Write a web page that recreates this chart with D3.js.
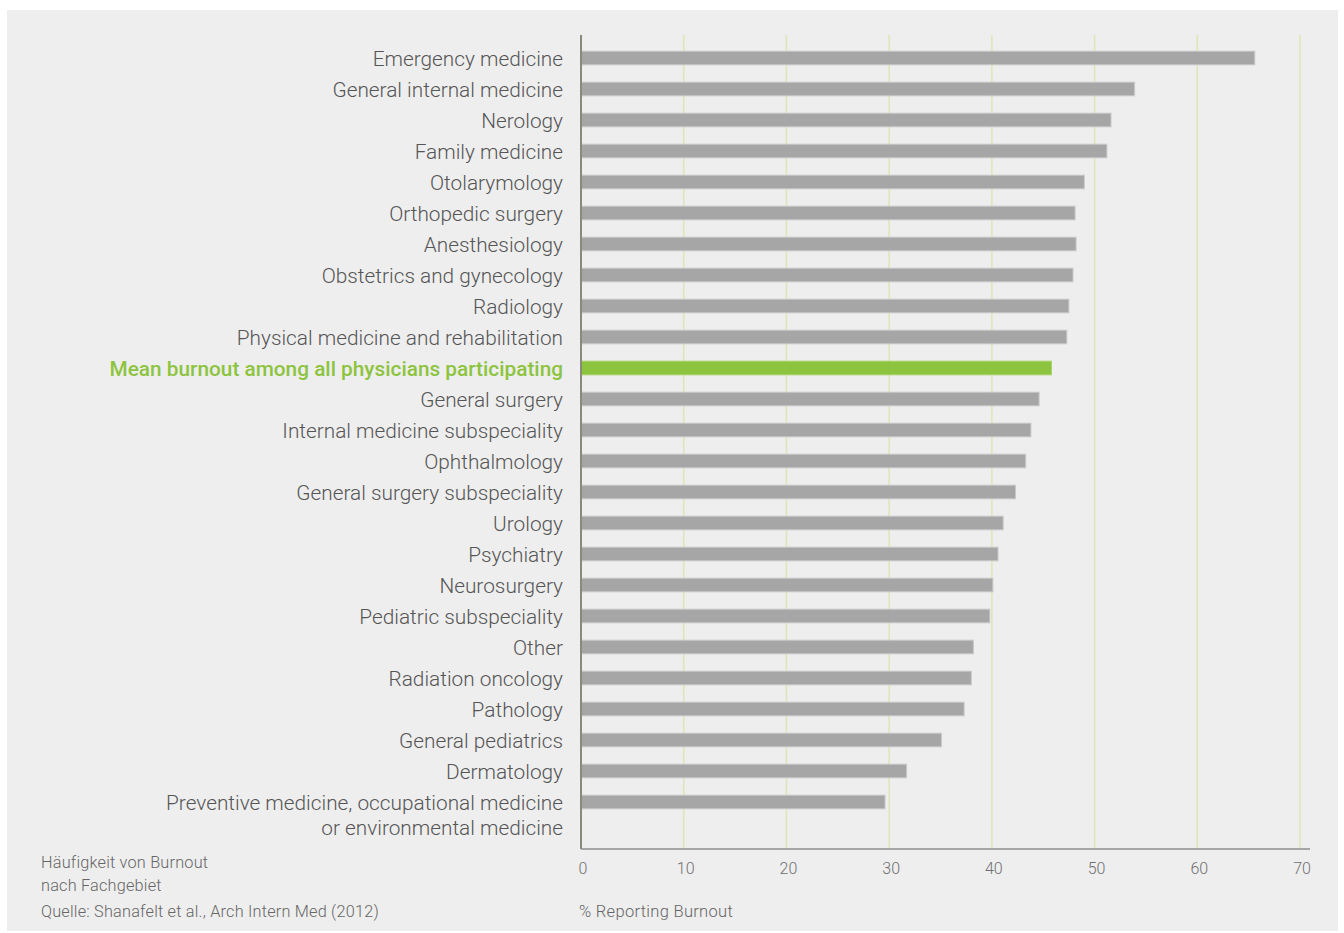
<!DOCTYPE html>
<html>
<head>
<meta charset="utf-8">
<script src="https://cdn.jsdelivr.net/npm/d3@7"></script>
<style>
  body { margin: 0; background: #ffffff; }
  text { font-family: Roboto, "Noto Sans", sans-serif; }
</style>
</head>
<body>
<script>
// Specialities, top to bottom.
const specialities = [
    "Emergency medicine",
    "General internal medicine",
    "Nerology",
    "Family medicine",
    "Otolarymology",
    "Orthopedic surgery",
    "Anesthesiology",
    "Obstetrics and gynecology",
    "Radiology",
    "Physical medicine and rehabilitation",
    "Mean burnout among all physicians participating",
    "General surgery",
    "Internal medicine subspeciality",
    "Ophthalmology",
    "General surgery subspeciality",
    "Urology",
    "Psychiatry",
    "Neurosurgery",
    "Pediatric subspeciality",
    "Other",
    "Radiation oncology",
    "Pathology",
    "General pediatrics",
    "Dermatology",
    "Preventive medicine, occupational medicine|or environmental medicine"
];

// Percent reporting burnout.
const burnout = [65.6, 53.9, 51.6, 51.2, 49.0, 48.1, 48.2, 47.9, 47.5, 47.3,
    45.8, 44.6, 43.8, 43.3, 42.3, 41.1, 40.6, 40.1, 39.8, 38.2,
    38.0, 37.3, 35.1, 31.7, 29.6];

// Index of the highlighted (mean) row.
const meanIndex = 10;

// Axis ticks.
const ticks = [0, 10, 20, 30, 40, 50, 60, 70];

// Footnote lines.
const notes = ["Häufigkeit von Burnout", "nach Fachgebiet", "Quelle: Shanafelt et al., Arch Intern Med (2012)"];

const Width = 1344, Height = 933;
const Green = "#8dc43f";

const svg = d3.select("body").append("svg")
    .attr("width", Width)
    .attr("height", Height);

// Gray panel.
svg.append("rect")
    .attr("x", 7).attr("y", 10)
    .attr("width", 1331).attr("height", 921)
    .attr("fill", "#eeeeee");

const x = d3.scaleLinear().domain([0, 70]).range([581, 1300]);

const y = d3.scaleBand()
    .domain(d3.range(specialities.length))
    .range([42.5, 817.5])
    .paddingInner(0.56)
    .paddingOuter(0.28);

const axisTop = 35, axisBottom = 849;

// Vertical grid lines.
svg.append("g")
    .selectAll("line")
    .data(ticks.slice(1))
    .join("line")
    .attr("x1", d => x(d)).attr("x2", d => x(d))
    .attr("y1", axisTop).attr("y2", axisBottom)
    .attr("stroke", "#dde6b6")
    .attr("stroke-width", 1.5);

// Bars.
svg.append("g")
    .selectAll("rect")
    .data(burnout)
    .join("rect")
    .attr("x", x(0))
    .attr("y", (d, i) => y(i))
    .attr("width", d => x(d) - x(0))
    .attr("height", y.bandwidth())
    .attr("fill", (d, i) => i === meanIndex ? Green : "#a6a6a6")
    .attr("stroke", (d, i) => i === meanIndex ? "#a8d36a" : "#c9c9c9")
    .attr("stroke-width", 1);

// Axis lines.
svg.append("line")
    .attr("x1", x(0)).attr("x2", 1310)
    .attr("y1", axisBottom).attr("y2", axisBottom)
    .attr("stroke", "#8e8e8e").attr("stroke-width", 1.5);
svg.append("line")
    .attr("x1", x(0)).attr("x2", x(0))
    .attr("y1", axisTop).attr("y2", axisBottom)
    .attr("stroke", "#8a8a7a").attr("stroke-width", 2);

// Category labels.
const labels = svg.append("g")
    .selectAll("text")
    .data(specialities)
    .join("text")
    .attr("x", 563)
    .attr("y", (d, i) => y(i) + y.bandwidth() / 2 + 8)
    .attr("text-anchor", "end")
    .attr("font-size", 20.8)
    .attr("font-weight", (d, i) => i === meanIndex ? 500 : 300)
    .attr("fill", (d, i) => i === meanIndex ? Green : "#555555");

labels.each(function (d) {
    const parts = d.split("|");
    d3.select(this).selectAll("tspan")
        .data(parts)
        .join("tspan")
        .attr("x", 563)
        .attr("dy", (p, j) => j === 0 ? 0 : 25)
        .text(p => p);
});

// Tick labels.
svg.append("g")
    .selectAll("text")
    .data(ticks)
    .join("text")
    .attr("x", d => x(d) + 2)
    .attr("y", 874)
    .attr("text-anchor", "middle")
    .attr("font-size", 16)
    .attr("font-weight", 300)
    .attr("fill", "#707070")
    .text(d => d);

// Axis title.
svg.append("text")
    .attr("x", 579).attr("y", 917)
    .attr("font-size", 16.5)
    .attr("font-weight", 300)
    .attr("letter-spacing", 0.3)
    .attr("fill", "#666666")
    .text("% Reporting Burnout");

// Footnotes.
svg.append("g")
    .selectAll("text")
    .data(notes)
    .join("text")
    .attr("x", 41)
    .attr("y", (d, i) => [868, 891, 917][i])
    .attr("font-size", 16.3)
    .attr("font-weight", 300)
    .attr("letter-spacing", 0.2)
    .attr("fill", "#666666")
    .text(d => d);
</script>
</body>
</html>
